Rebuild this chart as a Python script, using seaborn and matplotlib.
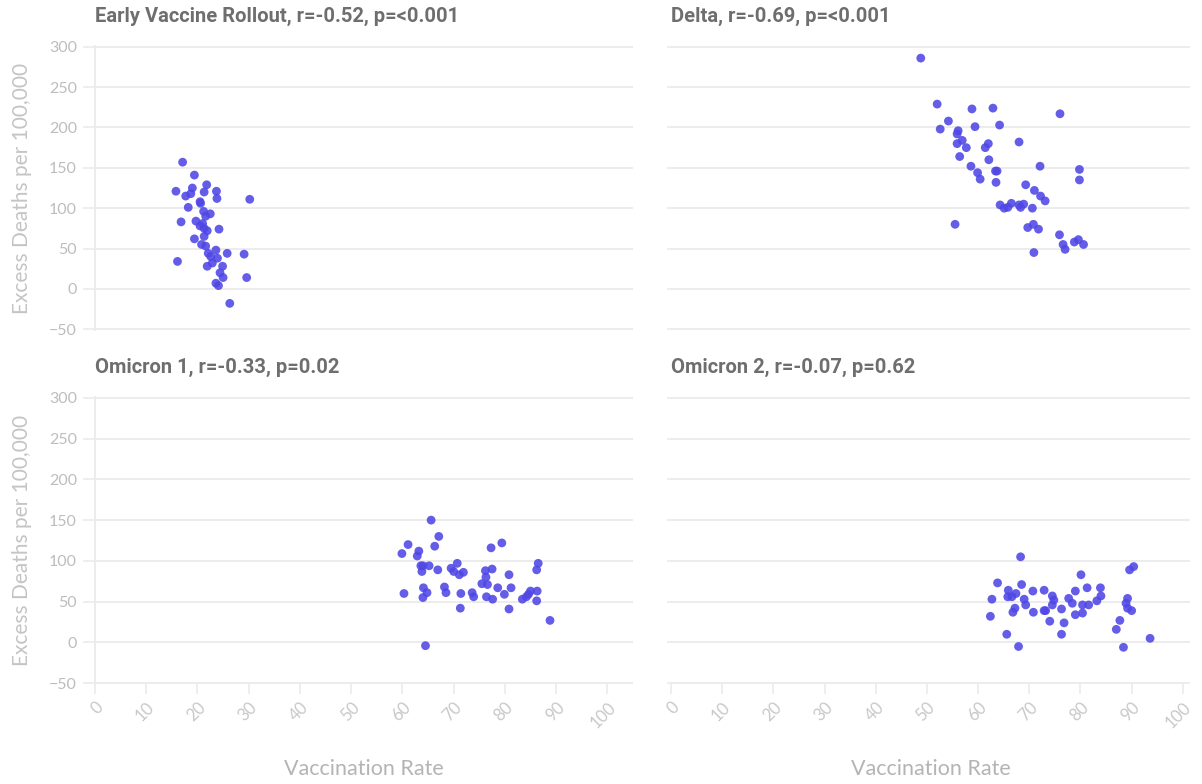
import pandas as pd
import seaborn as sns
from matplotlib import pyplot as plt

# values
early_x = [17.1, 19.4, 21.8, 15.8, 19.0, 17.7, 18.7, 21.3, 23.7, 23.8, 30.2, 20.5, 20.6,
           18.2, 21.2, 22.5, 21.6, 16.8, 19.7, 21.0, 20.5, 21.3, 21.9, 24.2, 21.3, 19.4,
           20.8, 21.6, 22.1, 23.6, 25.8, 29.1, 16.1, 22.6, 23.9, 21.9, 22.9, 24.9, 24.4,
           25.0, 29.6, 23.6, 24.1, 26.3]
early_y = [157, 141, 129, 121, 125, 115, 118, 120, 121, 112, 111, 108, 106,
           101, 96, 93, 90, 83, 84, 81, 78, 75, 72, 74, 65, 62,
           55, 53, 44, 48, 44, 43, 34, 40, 38, 28, 32, 28, 20,
           14, 14, 7, 4, -18]

delta_x = [48.8, 52.0, 58.8, 62.9, 76.0, 54.2, 52.6, 59.4, 64.2, 56.1, 55.9, 56.9, 55.9,
           57.7, 62.0, 61.4, 68.0, 56.4, 62.1, 58.6, 59.9, 60.4, 63.4, 63.7, 63.5, 72.1,
           79.8, 79.8, 69.3, 71.0, 72.2, 73.1, 64.3, 65.1, 65.8, 66.5, 68.0, 68.9, 68.3,
           70.6, 55.5, 69.7, 70.8, 71.8, 75.9, 76.6, 77.0, 78.8, 79.6, 80.6, 70.9]
delta_y = [286, 229, 223, 224, 217, 208, 198, 201, 203, 196, 192, 184, 180,
           175, 180, 175, 182, 164, 160, 152, 144, 136, 146, 146, 132, 152,
           148, 135, 129, 122, 115, 109, 104, 100, 101, 106, 104, 105, 101,
           100, 80, 76, 80, 74, 67, 55, 49, 58, 61, 55, 45]

omi1_x = [65.6, 67.1, 66.3, 61.1, 59.9, 63.2, 62.9, 77.3, 79.4, 63.6, 64.0, 65.2, 63.8,
          66.9, 69.5, 70.7, 70.0, 71.1, 71.9, 76.2, 77.5, 76.3, 80.8, 86.5, 86.2, 75.5,
          76.6, 78.6, 81.2, 64.1, 64.8, 68.2, 68.5, 60.3, 71.4, 73.6, 73.9, 79.9, 76.4,
          77.6, 64.0, 85.0, 86.3, 84.6, 83.4, 84.2, 86.2, 71.3, 80.8, 88.8, 64.5]
omi1_y = [150, 130, 118, 120, 109, 112, 106, 116, 122, 94, 94, 94, 87,
          89, 91, 97, 87, 83, 86, 88, 90, 80, 83, 97, 89, 72,
          71, 67, 67, 67, 61, 68, 61, 60, 60, 61, 56, 59, 56,
          53, 55, 63, 63, 59, 53, 56, 51, 42, 41, 27, -4]

omi2_x = [68.3, 89.6, 90.4, 63.8, 80.1, 68.5, 65.9, 67.4, 65.8, 66.6, 70.7, 72.9, 79.0,
          81.3, 83.9, 62.7, 69.0, 69.3, 74.5, 74.8, 74.5, 77.7, 78.4, 80.4, 81.6, 83.2,
          84.0, 89.2, 88.9, 89.2, 90.0, 67.2, 66.8, 70.8, 72.9, 73.2, 76.3, 62.4, 79.0,
          80.4, 74.0, 76.8, 87.7, 87.0, 65.6, 76.3, 93.6, 67.9, 88.4]
omi2_y = [105, 89, 93, 73, 83, 71, 64, 60, 56, 56, 63, 64, 63,
          67, 67, 53, 53, 46, 57, 52, 46, 54, 48, 46, 46, 51,
          57, 54, 48, 42, 39, 42, 37, 37, 39, 39, 41, 32, 34,
          36, 26, 24, 27, 16, 10, 10, 5, -5, -6]

titles = ["Early Vaccine Rollout, r=-0.52, p=<0.001",
          "Delta, r=-0.69, p=<0.001",
          "Omicron 1, r=-0.33, p=0.02",
          "Omicron 2, r=-0.07, p=0.62"]
series = [(early_x, early_y), (delta_x, delta_y), (omi1_x, omi1_y), (omi2_x, omi2_y)]
y_ticks = [-50, 0, 50, 100, 150, 200, 250, 300]
x_ticks = [0, 10, 20, 30, 40, 50, 60, 70, 80, 90, 100]

sns.set_theme(style="white")
plt.rcParams['font.family'] = ['Lato', 'DejaVu Sans']

W, H = 1202, 784
fig = plt.figure(figsize=(W / 100, H / 100), dpi=100)

# pixel boxes: left, top, right, bottom
boxes = [(95, 46, 633, 330), (671, 46, 1190, 330),
         (95, 397, 633, 684), (671, 397, 1190, 684)]
xmax = [105, 101.4, 105, 101.4]

dot = "#4f46e5"
grid_c = "#ebebeb"
tick_c = "#bdbdbd"

for i, (l, t, r, b) in enumerate(boxes):
    ax = fig.add_axes([l / W, 1 - b / H, (r - l) / W, (b - t) / H])
    df = pd.DataFrame({"Vaccination Rate": series[i][0],
                       "Excess Deaths per 100,000": series[i][1]})
    sns.scatterplot(data=df, x="Vaccination Rate", y="Excess Deaths per 100,000",
                    ax=ax, color=dot, s=40, alpha=0.88, edgecolor="none", zorder=3)
    ax.set_xlim(0, xmax[i])
    ax.set_ylim(-51, 301)
    ax.set_yticks(y_ticks)
    ax.set_xticks(x_ticks)
    ax.yaxis.grid(True, color=grid_c, linewidth=1.3)
    ax.xaxis.grid(False)
    for s in ["top", "right", "bottom"]:
        ax.spines[s].set_visible(False)
    ax.spines["left"].set_color(grid_c)
    ax.spines["left"].set_linewidth(1.3)
    ax.tick_params(axis="y", left=True, length=9, color=grid_c, width=1.2,
                   labelsize=11.5, labelcolor=tick_c, pad=4)
    ax.tick_params(axis="x", bottom=True, length=7, color=grid_c, width=1.2,
                   labelsize=12, labelcolor="#c8c8c8", pad=4)
    for lab in ax.get_xticklabels():
        lab.set_rotation(45)
        lab.set_ha("right")
        lab.set_va("top")
        lab.set_rotation_mode("anchor")

    if i % 2 == 1:
        ax.spines["left"].set_visible(False)
        ax.tick_params(axis="y", length=3, labelleft=False)
        ax.set_ylabel("")
    else:
        ax.set_ylabel("Excess Deaths per 100,000", fontsize=15, color="#c4c4c4", labelpad=12)
    if i < 2:
        ax.tick_params(axis="x", bottom=False, labelbottom=False)
        ax.set_xlabel("")
    else:
        ax.set_xlabel("Vaccination Rate", fontsize=15.5, color="#b4b4b4", labelpad=20)

    fig.text(l / W, 1 - (t - 30) / H, titles[i], fontsize=14.5, fontweight="bold",
             color="#6e6e6e", ha="left", va="center", family=["Roboto", "DejaVu Sans"])

fig.savefig("out.png", dpi=100)
